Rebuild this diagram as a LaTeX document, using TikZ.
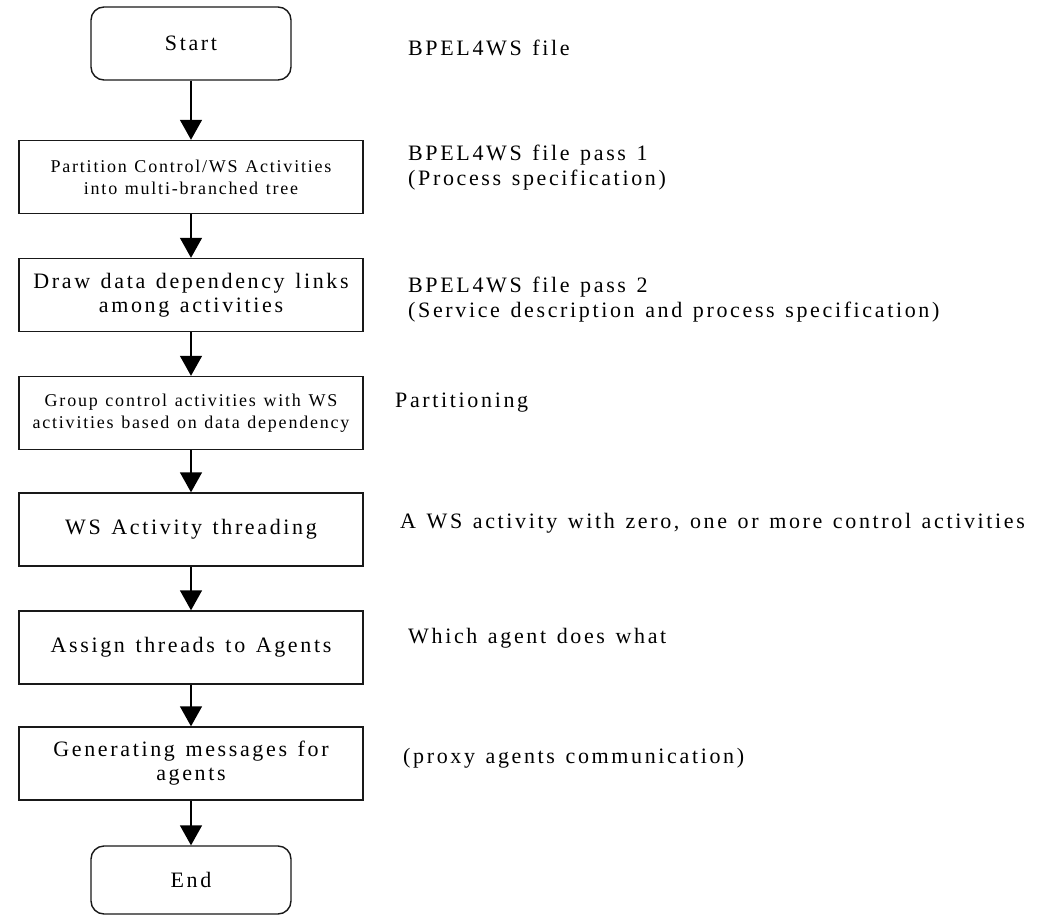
\documentclass[tikz,border=0pt]{standalone}
\usepackage{fontspec}
\setmainfont{Liberation Serif}
\newfontfamily\widefont{Liberation Serif}[LetterSpace=12, WordSpace=1.3]
\newfontfamily\narrowfont{Liberation Serif}[LetterSpace=10, WordSpace=1.2]
\usetikzlibrary{arrows.meta}

\begin{document}
\begin{tikzpicture}[x=1pt,y=-1pt,
  every node/.style={inner sep=0pt},
  flow/.style={draw=black!90, line width=1.4pt, fill=white},
  termbox/.style={flow, rounded corners=13pt, minimum width=200, minimum height=73},
  procbox/.style={flow, minimum width=344, minimum height=73, align=center},
  big/.style={font=\widefont\fontsize{22}{24}\selectfont},
  small/.style={font=\narrowfont\fontsize{18}{22}\selectfont},
  note/.style={anchor=west, align=left, font=\widefont\fontsize{22}{25}\selectfont},
  link/.style={draw=black, line width=1.4pt, -{Triangle[width=22pt,length=20pt]}}
]
\useasboundingbox (0,0) rectangle (1039,915);

% process chain
\node[termbox, big] (start) at (191,43.5) {Start};
\node[procbox, small] (b1) at (191,177) {Partition Control/WS Activities\\into multi-branched tree};
\node[procbox, big] (b2) at (191,295) {Draw data dependency links\\among activities};
\node[procbox, small] (b3) at (191,413) {Group control activities with WS\\activities based on data dependency};
\node[procbox, big] (b4) at (191,529.5) {WS Activity threading};
\node[procbox, big] (b5) at (191,647.5) {Assign threads to Agents};
\node[procbox, big] (b6) at (191,763.5) {Generating messages for\\agents};
\node[termbox, big, minimum height=68] (end) at (191,880) {End};

\draw[link] (start.south) -- (b1.north);
\draw[link] (b1.south) -- (b2.north);
\draw[link] (b2.south) -- (b3.north);
\draw[link] (b3.south) -- (b4.north);
\draw[link] (b4.south) -- (b5.north);
\draw[link] (b5.south) -- (b6.north);
\draw[link] (b6.south) -- (end.north);

% annotations
\node[note] (l0) at (408,48) {BPEL4WS file};
\node[note] (l1) at (408,168) {BPEL4WS file pass 1\\(Process specification)};
\node[note] (l2) at (408,300) {BPEL4WS file pass 2\\(Service description and process specification)};
\node[note] (l3) at (395,403) {Partitioning};
\node[note] (l4) at (400,523) {A WS activity with zero, one or more control activities};
\node[note] (l5) at (408,638) {Which agent does what};
\node[note] (l6) at (403,758) {(proxy agents communication)};
\end{tikzpicture}
\end{document}
